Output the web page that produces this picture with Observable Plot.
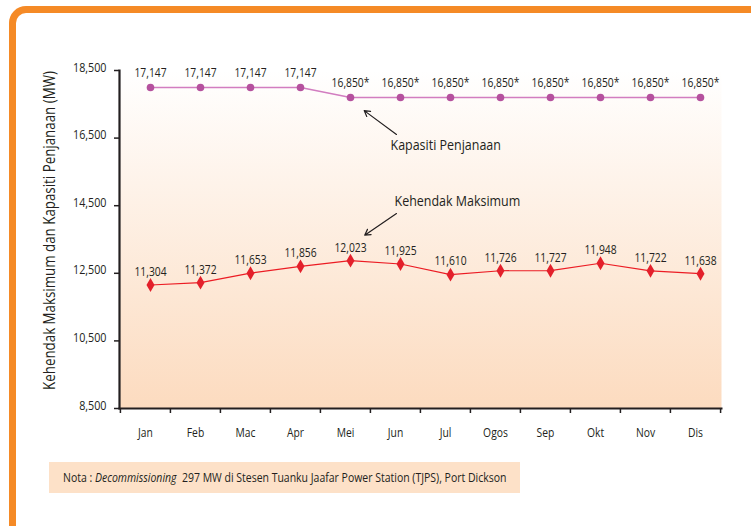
<!DOCTYPE html>
<html>
<head>
<meta charset="utf-8">
<script src="https://cdn.jsdelivr.net/npm/d3@7"></script>
<script src="https://cdn.jsdelivr.net/npm/@observablehq/plot@0.6"></script>
<style>
  body { margin: 0; width: 751px; height: 526px; overflow: hidden; background: #fff; position: relative;
         font-family: "Open Sans", "Liberation Sans", sans-serif; }
  #frame { position: absolute; left: 9px; top: 6px; width: 800px; height: 600px;
           border-left: 7px solid #F58A26; border-top: 7px solid #F58A26;
           border-top-left-radius: 17px; box-sizing: border-box; }
  #chart { position: absolute; left: 0; top: 0; }
  #note { position: absolute; left: 49px; top: 462px; width: 471px; height: 31px; background: #FDE1C8;
          box-sizing: border-box; color: #231F20; }
  #noteText { position: absolute; left: 14px; top: 0; font-size: 12.2px; line-height: 31px; white-space: nowrap;
              transform-origin: 0 50%; }
</style>
</head>
<body>
<div id="frame"></div>
<div id="chart"></div>
<div id="note"><span id="noteText">Nota : <i>Decommissioning</i>&nbsp; 297 MW di Stesen Tuanku Jaafar Power Station (TJPS), Port Dickson</span></div>
<script>
// ---- data ----
const months = ["Jan", "Feb", "Mac", "Apr", "Mei", "Jun", "Jul", "Ogos", "Sep", "Okt", "Nov", "Dis"];
const kapasiti = [17147, 17147, 17147, 17147, 16850, 16850, 16850, 16850, 16850, 16850, 16850, 16850];
const kapasitiLabels = ["17,147", "17,147", "17,147", "17,147", "16,850*", "16,850*", "16,850*", "16,850*", "16,850*", "16,850*", "16,850*", "16,850*"];
const kehendak = [11304, 11372, 11653, 11856, 12023, 11925, 11610, 11726, 11727, 11948, 11722, 11638];
const kehendakLabels = ["11,304", "11,372", "11,653", "11,856", "12,023", "11,925", "11,610", "11,726", "11,727", "11,948", "11,722", "11,638"];
const yTicks = [8500, 10500, 12500, 14500, 16500, 18500];
const yTitle = "Kehendak Maksimum dan Kapasiti Penjanaan (MW)";
const annotTexts = ["Kapasiti Penjanaan", "Kehendak Maksimum"];

// ---- layout ----
const W = 751, H = 450, mL = 119, mR = 30, mT = 70, mB = 42;
const step = (W - mL - mR) / months.length;
// the source chart draws its series about 850 MW above its own tick scale
const yShift = 850;
const FONT = '"Open Sans", "Liberation Sans", sans-serif';
const CONDENSE = 0.86;   // horizontal squeeze to imitate the condensed typeface

const capData = months.map((m, i) => ({month: m, value: kapasiti[i], label: kapasitiLabels[i]}));
const demData = months.map((m, i) => ({month: m, value: kehendak[i], label: kehendakLabels[i]}));

// annotation anchors (data space, same units as the series)
const annots = [
  {text: annotTexts[0], x: "Jun", y: 15431, tailY: 15757, targetX: "Mei", targetY: kapasiti[4], dx: -5},
  {text: annotTexts[1], x: "Jun", y: 13774, tailY: 13419, targetX: "Mei", targetY: 12413, dx: -1}
];

const gradient = () => {
  const defs = d3.create("svg:defs");
  const g = defs.append("linearGradient").attr("id", "bgGrad").attr("x1", 0).attr("y1", 0).attr("x2", 0).attr("y2", 1);
  g.append("stop").attr("offset", "0%").attr("stop-color", "#FFFFFF");
  g.append("stop").attr("offset", "100%").attr("stop-color", "#FCDBBF");
  return defs.node();
};

const Y = d => d.value + yShift;

const plot = Plot.plot({
  width: W, height: H,
  marginLeft: mL, marginRight: mR, marginTop: mT, marginBottom: mB,
  style: {fontFamily: FONT, color: "#231F20", background: "transparent", overflow: "visible"},
  x: {type: "point", domain: months, padding: 0.5, axis: null},
  y: {domain: [8500, 18500], axis: null},
  marks: [
    gradient,
    Plot.frame({fill: "url(#bgGrad)", stroke: null}),
    Plot.frame({anchor: "left", stroke: "#231F20", strokeWidth: 2.2}),
    Plot.frame({anchor: "bottom", stroke: "#231F20", strokeWidth: 2}),
    Plot.axisY({ticks: yTicks, tickSize: 5, tickFormat: () => "", label: null, strokeWidth: 1.5}),
    Plot.axisY({ticks: yTicks, tickSize: 5, tickPadding: 8, tickFormat: d3.format(","), fontSize: 12.5, label: null, strokeOpacity: 0, dy: -3}),
    Plot.axisX({ticks: months, tickSize: 5, dx: -step / 2, tickFormat: () => "", label: null, strokeWidth: 1.5}),
    Plot.axisX({ticks: [months[months.length - 1]], tickSize: 5, dx: step / 2, tickFormat: () => "", label: null, strokeWidth: 1.5}),
    Plot.axisX({ticks: months, tickSize: 0, tickPadding: 20, fontSize: 12, label: null}),
    Plot.text([yTitle], {frameAnchor: "left", textAnchor: "middle", text: d => d, rotate: -90, dx: -69, dy: -9, fontSize: 15.5}),
    // Kapasiti Penjanaan
    Plot.line(capData, {x: "month", y: Y, stroke: "#D27DC0", strokeWidth: 1.5, dx: 5}),
    Plot.dot(capData, {x: "month", y: Y, r: 3.8, fill: "#B5519E", stroke: null, dx: 5}),
    Plot.text(capData, {x: "month", y: Y, text: "label", dy: -14, dx: 5, fontSize: 12}),
    // Kehendak Maksimum
    Plot.line(demData, {x: "month", y: Y, stroke: "#EC1C24", strokeWidth: 1.2, dx: 5}),
    Plot.dot(demData, {x: "month", y: Y, symbol: "diamond", r: 4.2, fill: "#E3202B", stroke: null, dx: 5}),
    Plot.text(demData, {x: "month", y: Y, text: "label", dy: -13, dx: 5, fontSize: 12}),
    // annotations
    Plot.arrow(annots, {x1: "x", y1: d => d.tailY + yShift, x2: "targetX", y2: d => d.targetY + yShift, insetEnd: 22, dx: 1,
                        stroke: "#231F20", strokeWidth: 1.2, headLength: 8}),
    ...annots.map(a => Plot.text([a], {x: "x", y: d => d.y + yShift, text: "text", textAnchor: "start", dx: a.dx, fontSize: 14.5}))
  ]
});
document.getElementById("chart").appendChild(plot);

// squeeze every text horizontally to get the condensed look of the original typeface
plot.querySelectorAll("text").forEach(t => {
  const len = t.getComputedTextLength();
  if (len > 0) {
    t.setAttribute("textLength", (len * CONDENSE).toFixed(2));
    t.setAttribute("lengthAdjust", "spacingAndGlyphs");
  }
});
const nt = document.getElementById("noteText");
nt.style.transform = `scaleX(${CONDENSE})`;
</script>
</body>
</html>
